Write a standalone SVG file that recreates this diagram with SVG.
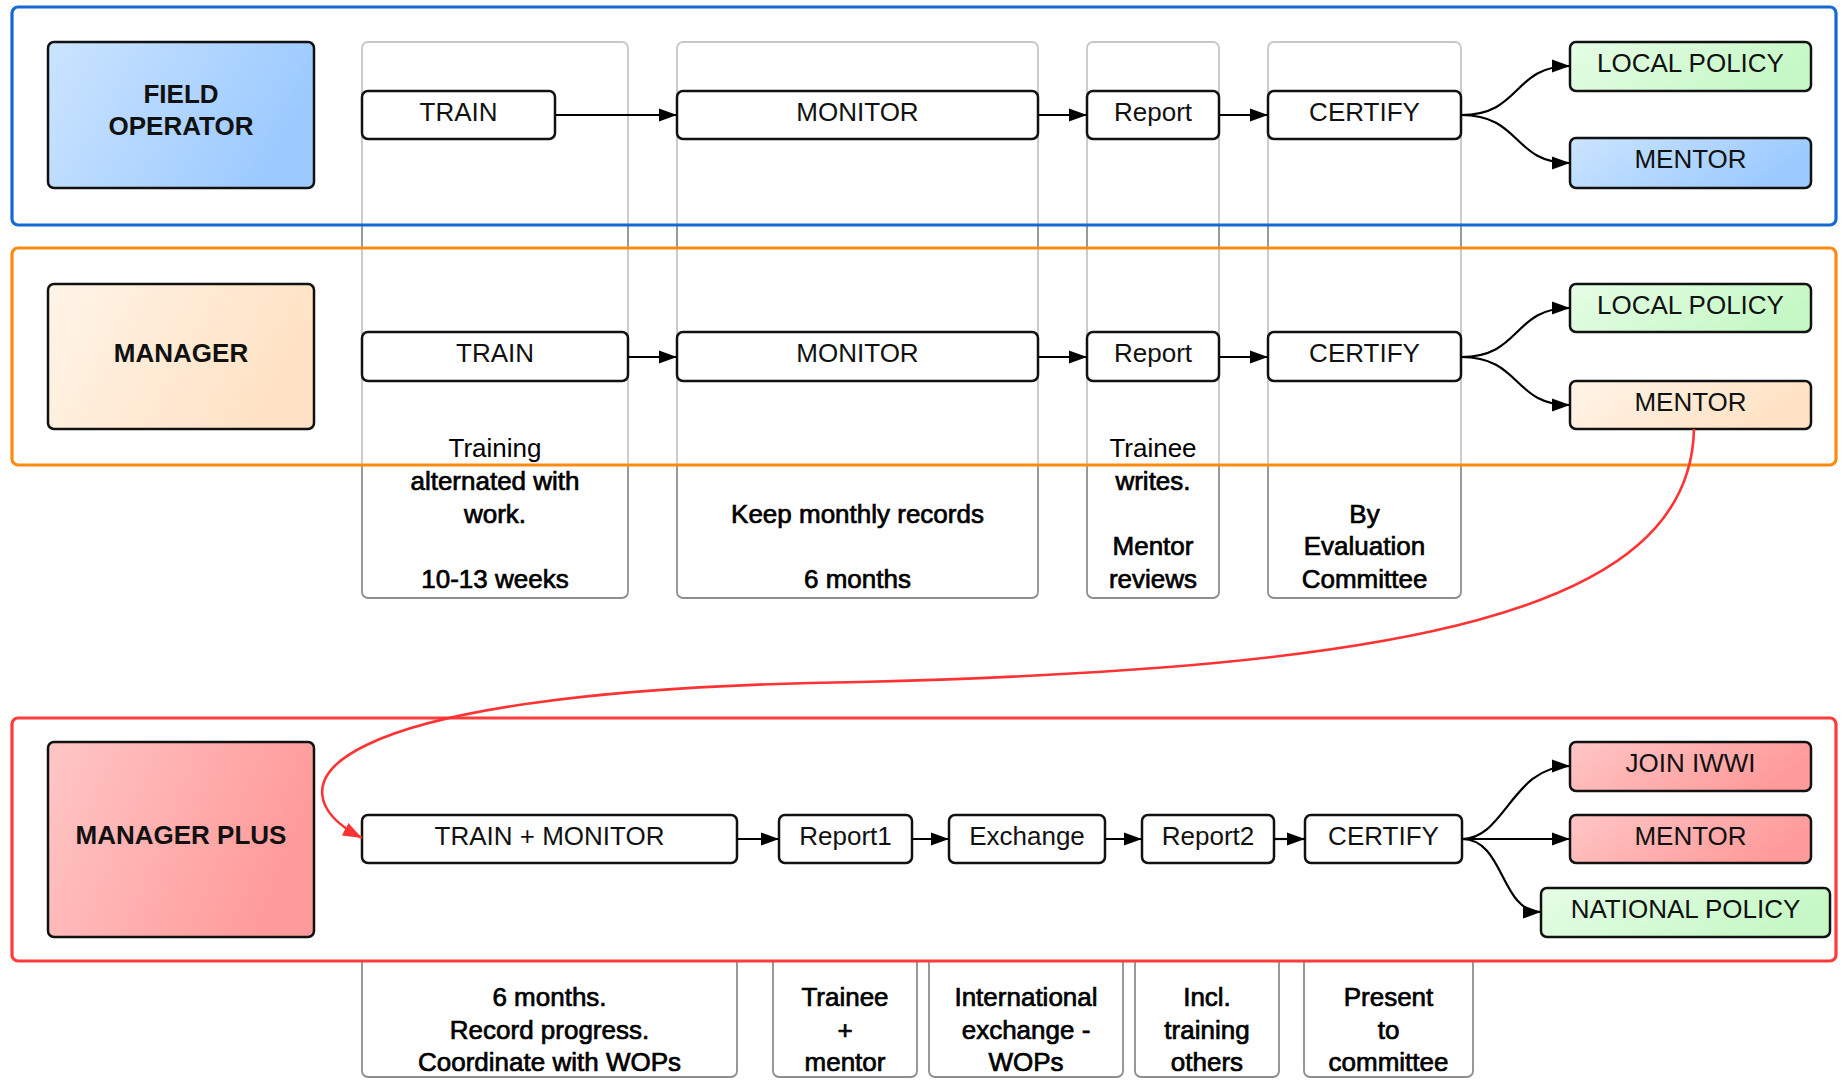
<svg xmlns="http://www.w3.org/2000/svg" width="1845" height="1080" viewBox="0 0 1845 1080">
<defs>
<linearGradient id="gBlue" x1="0" y1="0" x2="1" y2="0.3"><stop offset="0" stop-color="#cbe4ff"/><stop offset="1" stop-color="#9ccaff"/></linearGradient>
<linearGradient id="gOrange" x1="0" y1="0" x2="1" y2="0.3"><stop offset="0" stop-color="#fff4e8"/><stop offset="1" stop-color="#ffe2c4"/></linearGradient>
<linearGradient id="gRed" x1="0" y1="0" x2="1" y2="0.3"><stop offset="0" stop-color="#ffc6c6"/><stop offset="1" stop-color="#ff9a9a"/></linearGradient>
<linearGradient id="gGreen" x1="0" y1="0" x2="1" y2="0.3"><stop offset="0" stop-color="#e6fde6"/><stop offset="1" stop-color="#c6f8c6"/></linearGradient>
<marker id="ah" markerUnits="userSpaceOnUse" markerWidth="19" markerHeight="14" refX="18" refY="7" orient="auto"><path d="M0,0.5 L18,7 L0,13.5 z" fill="#000"/></marker>
<marker id="ahr" markerUnits="userSpaceOnUse" markerWidth="20" markerHeight="15" refX="19" refY="7.5" orient="auto"><path d="M0,0.5 L19,7.5 L0,14.5 z" fill="#ff3333"/></marker>
</defs>
<style>
.col{fill:#fff;stroke:#8e8e8e;stroke-width:1.8}
.lane{stroke-width:3.2}
.box{fill:#fff;stroke:#111;stroke-width:2.5}
.t{font-family:"Liberation Sans",Arial,sans-serif;font-size:26px;fill:#111;text-anchor:middle}
.b{font-weight:bold}
.n{font-family:"Liberation Sans",Arial,sans-serif;font-size:26px;fill:#000;text-anchor:middle}
.hv{stroke:#000;stroke-width:0.7}
.c{fill:none;stroke:#000;stroke-width:2.2;marker-end:url(#ah)}
.rc{fill:none;stroke:#ff3333;stroke-width:2.6;marker-end:url(#ahr)}
</style>
<rect width="1845" height="1080" fill="#fff"/>

<g id="columns">
<rect class="col" x="362" y="42" width="266" height="556" rx="6"/>
<rect class="col" x="677" y="42" width="361" height="556" rx="6"/>
<rect class="col" x="1087" y="42" width="132" height="556" rx="6"/>
<rect class="col" x="1268" y="42" width="193" height="556" rx="6"/>
<rect class="col" x="362" y="930" width="375" height="147" rx="6"/>
<rect class="col" x="773" y="930" width="144" height="147" rx="6"/>
<rect class="col" x="929" y="930" width="194" height="147" rx="6"/>
<rect class="col" x="1135" y="930" width="144" height="147" rx="6"/>
<rect class="col" x="1304" y="930" width="169" height="147" rx="6"/>
</g>

<g id="lanes">
<rect id="lane-field" class="lane" x="12" y="7" width="1824" height="218" rx="6" fill="#fff" fill-opacity="0.5" stroke="#1469d4"/>
<rect id="lane-manager" class="lane" x="12" y="248" width="1824" height="217" rx="6" fill="#fff" fill-opacity="0.5" stroke="#ff8a10"/>
<rect id="lane-plus" class="lane" x="12" y="718" width="1824" height="243" rx="6" fill="#fff" stroke="#ff3b3b"/>
</g>

<g id="column-notes">
<text class="n" x="495" y="457">Training</text>
<text class="n hv" x="495" y="490">alternated with</text>
<text class="n hv" x="495" y="523">work.</text>
<text class="n hv" x="495" y="588">10-13 weeks</text>
<text class="n hv" x="857.5" y="523">Keep monthly records</text>
<text class="n hv" x="857.5" y="588">6 months</text>
<text class="n" x="1153" y="457">Trainee</text>
<text class="n hv" x="1153" y="490">writes.</text>
<text class="n hv" x="1153" y="555">Mentor</text>
<text class="n hv" x="1153" y="588">reviews</text>
<text class="n hv" x="1364.5" y="523">By</text>
<text class="n hv" x="1364.5" y="555">Evaluation</text>
<text class="n hv" x="1364.5" y="588">Committee</text>
<text class="n hv" x="549.5" y="1006">6 months.</text>
<text class="n hv" x="549.5" y="1039">Record progress.</text>
<text class="n hv" x="549.5" y="1071">Coordinate with WOPs</text>
<text class="n hv" x="845" y="1006">Trainee</text>
<text class="n hv" x="845" y="1039">+</text>
<text class="n hv" x="845" y="1071">mentor</text>
<text class="n hv" x="1026" y="1006">International</text>
<text class="n hv" x="1026" y="1039">exchange -</text>
<text class="n hv" x="1026" y="1071">WOPs</text>
<text class="n hv" x="1207" y="1006">Incl.</text>
<text class="n hv" x="1207" y="1039">training</text>
<text class="n hv" x="1207" y="1071">others</text>
<text class="n hv" x="1388.5" y="1006">Present</text>
<text class="n hv" x="1388.5" y="1039">to</text>
<text class="n hv" x="1388.5" y="1071">committee</text>
</g>

<g id="field-operator"><rect class="box" x="48" y="42" width="266" height="146" rx="6" style="fill:url(#gBlue)"/><text class="t b" x="181" y="103">FIELD</text><text class="t b" x="181" y="135">OPERATOR</text></g>
<g id="fo-train"><rect class="box" x="362" y="91" width="193" height="48" rx="6"/><text class="t" x="458.5" y="121">TRAIN</text></g>
<g id="fo-monitor"><rect class="box" x="677" y="91" width="361" height="48" rx="6"/><text class="t" x="857.5" y="121">MONITOR</text></g>
<g id="fo-report"><rect class="box" x="1087" y="91" width="132" height="48" rx="6"/><text class="t" x="1153" y="121">Report</text></g>
<g id="fo-certify"><rect class="box" x="1268" y="91" width="193" height="48" rx="6"/><text class="t" x="1364.5" y="121">CERTIFY</text></g>
<g id="fo-local"><rect class="box" x="1570" y="42" width="241" height="49" rx="6" style="fill:url(#gGreen)"/><text class="t" x="1690.5" y="72">LOCAL POLICY</text></g>
<g id="fo-mentor"><rect class="box" x="1570" y="138" width="241" height="50" rx="6" style="fill:url(#gBlue)"/><text class="t" x="1690.5" y="168">MENTOR</text></g>

<g id="manager"><rect class="box" x="48" y="284" width="266" height="145" rx="6" style="fill:url(#gOrange)"/><text class="t b" x="181" y="362">MANAGER</text></g>
<g id="m-train"><rect class="box" x="362" y="332" width="266" height="49" rx="6"/><text class="t" x="495" y="362">TRAIN</text></g>
<g id="m-monitor"><rect class="box" x="677" y="332" width="361" height="49" rx="6"/><text class="t" x="857.5" y="362">MONITOR</text></g>
<g id="m-report"><rect class="box" x="1087" y="332" width="132" height="49" rx="6"/><text class="t" x="1153" y="362">Report</text></g>
<g id="m-certify"><rect class="box" x="1268" y="332" width="193" height="49" rx="6"/><text class="t" x="1364.5" y="362">CERTIFY</text></g>
<g id="m-local"><rect class="box" x="1570" y="284" width="241" height="48" rx="6" style="fill:url(#gGreen)"/><text class="t" x="1690.5" y="314">LOCAL POLICY</text></g>
<g id="m-mentor"><rect class="box" x="1570" y="381" width="241" height="48" rx="6" style="fill:url(#gOrange)"/><text class="t" x="1690.5" y="411">MENTOR</text></g>

<g id="manager-plus"><rect class="box" x="48" y="742" width="266" height="195" rx="6" style="fill:url(#gRed)"/><text class="t b" x="181" y="844">MANAGER PLUS</text></g>
<g id="mp-trainmonitor"><rect class="box" x="362" y="815" width="375" height="48" rx="6"/><text class="t" x="549.5" y="845">TRAIN + MONITOR</text></g>
<g id="mp-report1"><rect class="box" x="779" y="815" width="133" height="48" rx="6"/><text class="t" x="845.5" y="845">Report1</text></g>
<g id="mp-exchange"><rect class="box" x="949" y="815" width="156" height="48" rx="6"/><text class="t" x="1027" y="845">Exchange</text></g>
<g id="mp-report2"><rect class="box" x="1142" y="815" width="132" height="48" rx="6"/><text class="t" x="1208" y="845">Report2</text></g>
<g id="mp-certify"><rect class="box" x="1305" y="815" width="157" height="48" rx="6"/><text class="t" x="1383.5" y="845">CERTIFY</text></g>
<g id="mp-join"><rect class="box" x="1570" y="742" width="241" height="49" rx="6" style="fill:url(#gRed)"/><text class="t" x="1690.5" y="772">JOIN IWWI</text></g>
<g id="mp-mentor"><rect class="box" x="1570" y="815" width="241" height="48" rx="6" style="fill:url(#gRed)"/><text class="t" x="1690.5" y="845">MENTOR</text></g>
<g id="mp-national"><rect class="box" x="1541" y="888" width="289" height="49" rx="6" style="fill:url(#gGreen)"/><text class="t" x="1685.5" y="918">NATIONAL POLICY</text></g>

<g id="connectors">
<path class="c" d="M555,115 L677,115"/>
<path class="c" d="M1038,115 L1087,115"/>
<path class="c" d="M1219,115 L1268,115"/>
<path class="c" d="M1461,115 C1522,115 1512,66 1570,66"/>
<path class="c" d="M1461,115 C1522,115 1512,163 1570,163"/>
<path class="c" d="M628,357 L677,357"/>
<path class="c" d="M1038,357 L1087,357"/>
<path class="c" d="M1219,357 L1268,357"/>
<path class="c" d="M1461,357 C1522,357 1512,308 1570,308"/>
<path class="c" d="M1461,357 C1522,357 1512,405 1570,405"/>
<path class="c" d="M737,839 L779,839"/>
<path class="c" d="M912,839 L949,839"/>
<path class="c" d="M1105,839 L1142,839"/>
<path class="c" d="M1274,839 L1305,839"/>
<path class="c" d="M1462,839 C1505,839 1512,766 1570,766"/>
<path class="c" d="M1462,839 L1570,839"/>
<path class="c" d="M1462,839 C1505,839 1500,912 1541,912"/>
<path class="rc" d="M1694,429 C1690,615 1400,668 860,682 C300,690 270,790 362,838"/>
</g>
</svg>
